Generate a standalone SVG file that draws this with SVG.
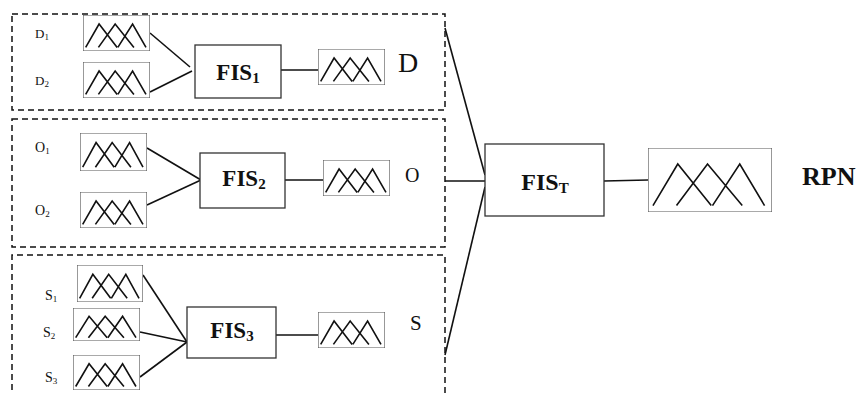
<svg xmlns="http://www.w3.org/2000/svg" xmlns:xlink="http://www.w3.org/1999/xlink" width="856" height="394" viewBox="0 0 856 394">
<style>
.t{font-family:"Liberation Serif","Times New Roman",serif;fill:#111}
.b{font-weight:bold}
.dash{fill:none;stroke:#111;stroke-width:1.5;stroke-dasharray:6 4}
.fis{fill:#fff;stroke:#333;stroke-width:1.3}
.c{stroke:#111;stroke-width:1.6;fill:none}
</style>
<defs>
<symbol id="mf" viewBox="0 0 100 100" preserveAspectRatio="none">
<rect x="0" y="0" width="100" height="100" fill="#fff" stroke="#555" stroke-width="1.2" vector-effect="non-scaling-stroke"/>
<path d="M4 90 L24 25 L51 90 M23 90 L48 25 L76 90 M52 90 L74 25 L94 90" fill="none" stroke="#111" stroke-width="1.6" vector-effect="non-scaling-stroke"/>
</symbol>
</defs>
<rect width="856" height="394" fill="#fff"/>
<g id="groupD">
<rect class="dash" x="12" y="14" width="433" height="96"/>
</g>
<g id="groupO">
<rect class="dash" x="12" y="119" width="433" height="128"/>
</g>
<g id="groupS">
<path class="dash" d="M12 400 V255 H445 V400"/>
</g>
<g id="connectors">
<line class="c" x1="150" y1="33" x2="190" y2="67"/>
<line class="c" x1="150" y1="92" x2="192" y2="71"/>
<line class="c" x1="281" y1="70" x2="318" y2="70"/>
<line class="c" x1="147" y1="148" x2="201" y2="180"/>
<line class="c" x1="147" y1="205" x2="201" y2="180"/>
<line class="c" x1="285" y1="180" x2="323" y2="180"/>
<line class="c" x1="143" y1="275" x2="187" y2="342"/>
<line class="c" x1="140" y1="332" x2="187" y2="342"/>
<line class="c" x1="140" y1="377" x2="187" y2="342"/>
<line class="c" x1="276" y1="335" x2="318" y2="335"/>
<line class="c" x1="445" y1="28" x2="485" y2="175"/>
<line class="c" x1="445" y1="181" x2="485" y2="181"/>
<line class="c" x1="445" y1="355" x2="485" y2="187"/>
<line class="c" x1="604" y1="181" x2="648" y2="180"/>
</g>
<g id="D1"><text class="t" x="35" y="38" font-size="13">D<tspan font-size="9" dy="2">1</tspan></text><use href="#mf" x="83" y="15" width="67" height="36"/></g>
<g id="D2"><text class="t" x="35" y="85" font-size="13">D<tspan font-size="9" dy="2">2</tspan></text><use href="#mf" x="83" y="62" width="67" height="36"/></g>
<g id="FIS1"><rect class="fis" x="195" y="45" width="86" height="53"/><text class="t b" x="238" y="80" font-size="23" text-anchor="middle">FIS<tspan font-size="15" dy="3">1</tspan></text></g>
<g id="Dout"><use href="#mf" x="318" y="49" width="67" height="36"/><text class="t" x="398" y="72" font-size="28">D</text></g>
<g id="O1"><text class="t" x="35" y="152" font-size="14">O<tspan font-size="9" dy="2">1</tspan></text><use href="#mf" x="80" y="133" width="67" height="38"/></g>
<g id="O2"><text class="t" x="35" y="215" font-size="14">O<tspan font-size="9" dy="2">2</tspan></text><use href="#mf" x="80" y="192" width="67" height="36"/></g>
<g id="FIS2"><rect class="fis" x="200" y="153" width="85" height="55"/><text class="t b" x="244" y="186" font-size="23" text-anchor="middle">FIS<tspan font-size="15" dy="3">2</tspan></text></g>
<g id="Oout"><use href="#mf" x="323" y="160" width="67" height="36"/><text class="t" x="405" y="182" font-size="20">O</text></g>
<g id="S1"><text class="t" x="45" y="300" font-size="14">S<tspan font-size="9" dy="2">1</tspan></text><use href="#mf" x="77" y="265" width="66" height="37"/></g>
<g id="S2"><text class="t" x="43" y="337" font-size="14">S<tspan font-size="9" dy="2">2</tspan></text><use href="#mf" x="73" y="308" width="67" height="33"/></g>
<g id="S3"><text class="t" x="45" y="382" font-size="14">S<tspan font-size="9" dy="2">3</tspan></text><use href="#mf" x="73" y="355" width="67" height="35"/></g>
<g id="FIS3"><rect class="fis" x="187" y="307" width="89" height="51"/><text class="t b" x="232" y="338" font-size="23" text-anchor="middle">FIS<tspan font-size="15" dy="3">3</tspan></text></g>
<g id="Sout"><use href="#mf" x="318" y="312" width="67" height="36"/><text class="t" x="410" y="330" font-size="21">S</text></g>
<g id="FIST"><rect class="fis" x="485" y="144" width="119" height="72"/><text class="t b" x="545" y="190" font-size="24" text-anchor="middle">FIS<tspan font-size="15" dy="3">T</tspan></text></g>
<g id="RPNmf"><use href="#mf" x="648" y="148" width="124" height="64"/></g>
<g id="RPN"><text class="t b" x="802" y="185" font-size="26">RPN</text></g>
</svg>
